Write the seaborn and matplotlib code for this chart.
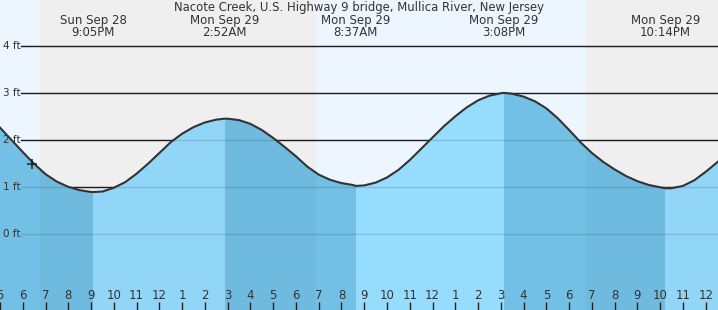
import numpy as np
import pandas as pd
import matplotlib
matplotlib.use("Agg")
import matplotlib.pyplot as plt
import matplotlib.transforms as mtransforms
import seaborn as sns

# ---------------- data (hours counted from Sun Sep 28 00:00) ----------------
title = "Nacote Creek, U.S. Highway 9 bridge, Mullica River, New Jersey"

curve_hours = [17.0, 17.5, 18.0, 18.5, 19.0, 19.5, 20.0, 20.5, 21.0, 21.5,
               22.0, 22.5, 23.0, 23.5, 24.0, 24.5, 25.0, 25.5, 26.0, 26.5,
               27.0, 27.5, 28.0, 28.5, 29.0, 29.5, 30.0, 30.5, 31.0, 31.5,
               32.0, 32.5, 33.0, 33.5, 34.0, 34.5, 35.0, 35.5, 36.0, 36.5,
               37.0, 37.5, 38.0, 38.5, 39.0, 39.5, 40.0, 40.5, 41.0, 41.5,
               42.0, 42.5, 43.0, 43.5, 44.0, 44.5, 45.0, 45.5, 46.0, 46.5,
               47.0, 47.5, 48.0, 48.5, 49.0]
curve_ft = [2.27, 2.01, 1.75, 1.50, 1.28, 1.12, 1.01, 0.94, 0.90, 0.91,
            0.99, 1.11, 1.29, 1.50, 1.73, 1.96, 2.14, 2.28, 2.38, 2.44,
            2.46, 2.43, 2.35, 2.22, 2.05, 1.86, 1.66, 1.44, 1.27, 1.16,
            1.09, 1.05, 1.04, 1.10, 1.21, 1.37, 1.58, 1.82, 2.06, 2.30,
            2.51, 2.70, 2.85, 2.95, 3.00, 2.99, 2.93, 2.83, 2.68, 2.47,
            2.22, 1.96, 1.73, 1.54, 1.38, 1.24, 1.13, 1.05, 1.00, 0.98,
            1.03, 1.15, 1.33, 1.53, 1.76]

event_hours = [21.083, 26.867, 32.617, 39.133, 46.233]
event_ft = [0.90, 2.46, 1.03, 3.01, 0.98]
event_day = ["Sun Sep 28", "Mon Sep 29", "Mon Sep 29", "Mon Sep 29", "Mon Sep 29"]
event_time = ["9:05PM", "2:52AM", "8:37AM", "3:08PM", "10:14PM"]

night_start = [18.77, 42.74]
night_end = [30.89, 50.0]

now_hour = [18.42]
now_ft = [1.50]

y_ticks = [0, 1, 2, 3, 4]
y_labels = ["0 ft", "1 ft", "2 ft", "3 ft", "4 ft"]

hour_ticks = list(range(17, 49))
hour_labels = [str((h - 1) % 12 + 1) for h in hour_ticks]
midnight_ticks = [24, 48]

# ---------------- style ----------------
W, H = 718, 310
x_lo, x_hi = 17.036, 48.54
y_lo, y_hi = -1.61, 4.985
day_bg = "#edf6ff"
night_bg = "#efefef"
rise_col = "#96dcfd"
fall_col = "#72c0e5"
text_col = "#333333"

fig = plt.figure(figsize=(W / 100, H / 100), dpi=100)
ax = fig.add_axes([0, 0, 1, 1])
ax.set_facecolor(day_bg)
for s in ax.spines.values():
    s.set_visible(False)
ax.set_xlim(x_lo, x_hi)
ax.set_ylim(y_lo, y_hi)

# night background
for a, b in zip(night_start, night_end):
    ax.axvspan(a, b, color=night_bg, lw=0, zorder=0.5)

# grid lines (under water)
for y in y_ticks:
    ax.axhline(y, xmin=21 / W, color="#222222", lw=1, zorder=1)

df = pd.DataFrame({"hour": curve_hours + event_hours,
                   "ft": curve_ft + event_ft}).sort_values("hour").reset_index(drop=True)

water = ax.fill_between(df["hour"], df["ft"], y_lo, color=rise_col, lw=0, zorder=2)
wpath = water.get_paths()[0]
wtrans = water.get_transform()

# falling-tide shading: segment ending at a low tide
bounds = [x_lo - 2] + event_hours + [x_hi + 2]
for i in range(len(bounds) - 1):
    if i < len(event_hours):
        nxt = event_ft[i]
        other = event_ft[i + 1] if i + 1 < len(event_ft) else event_ft[i - 1]
        falling = nxt < other
    else:
        falling = event_ft[-1] > event_ft[-2]
    if falling:
        sp = ax.axvspan(bounds[i], bounds[i + 1], color=fall_col, lw=0, zorder=2.1)
        sp.set_clip_path(wpath, wtrans)

# night darkening over water
for a, b in zip(night_start, night_end):
    sp = ax.axvspan(a, b, color="black", alpha=0.025, lw=0, zorder=2.2)
    sp.set_clip_path(wpath, wtrans)

# grid lines seen through the water
for y in y_ticks:
    ax.axhline(y, xmin=21 / W, color="black", alpha=0.13, lw=1, zorder=2.5)

sns.lineplot(data=df, x="hour", y="ft", ax=ax, color="#333333", lw=1.5, zorder=3)
ax.plot(now_hour, now_ft, marker="+", ms=7, mew=1.1, color="#222222", ls="none", zorder=4)

ax.set_xlabel("")
ax.set_ylabel("")
ax.set_yticks([])

# y labels
ytr = mtransforms.blended_transform_factory(ax.transAxes, ax.transData)
for y, lab in zip(y_ticks, y_labels):
    ax.text(3 / W, y, lab, transform=ytr, ha="left", va="center",
            fontsize=7.5, color=text_col, zorder=5)

# x ticks
ax.set_axisbelow(False)
ax.xaxis.set_zorder(5)
ax.set_xticks(hour_ticks)
ax.tick_params(axis="x", direction="in", length=5.8, width=1, color="#222222",
               labelbottom=False, bottom=True)
for t in ax.xaxis.get_major_ticks():
    if t.get_loc() in midnight_ticks:
        t.tick1line.set_markeredgewidth(3)
xtr = mtransforms.blended_transform_factory(ax.transData, ax.transAxes)
for h, lab in zip(hour_ticks, hour_labels):
    ax.text(h, 14.3 / H, lab, transform=xtr, ha="center", va="center",
            fontsize=8.5, color=text_col, clip_on=False, zorder=5)

# title and event labels
fig.text(0.5, 1 - 11 / H, title, ha="center", va="baseline", fontsize=8.4, color=text_col)
for h, d, tm in zip(event_hours, event_day, event_time):
    ax.text(h, 1 - 24 / H, d, transform=xtr, ha="center", va="baseline",
            fontsize=8.5, color=text_col, zorder=5)
    ax.text(h, 1 - 36 / H, tm, transform=xtr, ha="center", va="baseline",
            fontsize=8.5, color=text_col, zorder=5)

fig.savefig("out.png", dpi=100)
